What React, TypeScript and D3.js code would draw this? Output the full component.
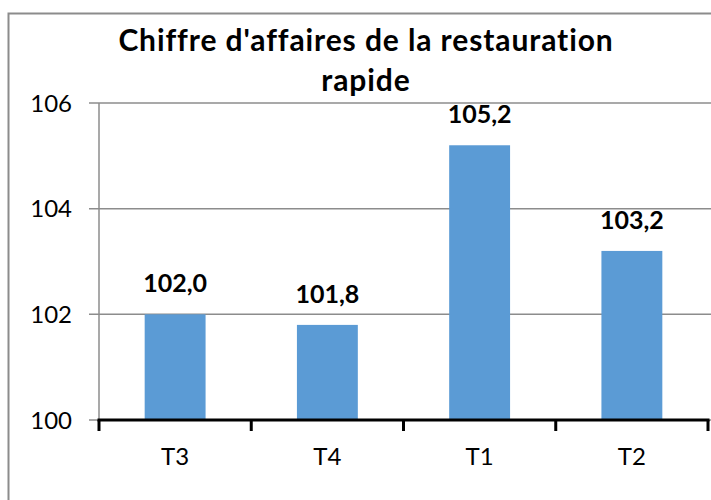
import { useEffect, useRef } from "react";
import * as d3 from "d3";

const categories = ["T3", "T4", "T1", "T2"];
const values = [102.0, 101.8, 105.2, 103.2];
const yTicks = [100, 102, 104, 106];
const titleLines = ["Chiffre d'affaires de la restauration", "rapide"];

const W = 711;
const H = 500;

const App = () => {
  const svgRef = useRef<SVGSVGElement>(null);

  useEffect(() => {
    const svg = d3.select(svgRef.current);
    svg.selectAll("*").remove();

    const margin = { top: 103, right: 3, bottom: 80, left: 99 };
    const font = "Lato, 'Open Sans', sans-serif";

    const x = d3
      .scaleBand()
      .domain(categories)
      .range([margin.left, W - margin.right])
      .paddingInner(0.6)
      .paddingOuter(0.3);

    const y = d3
      .scaleLinear()
      .domain([100, 106])
      .range([H - margin.bottom, margin.top]);

    svg.append("rect").attr("width", W).attr("height", H).attr("fill", "#fff");

    // chart border (clipped on right and bottom)
    svg
      .append("path")
      .attr("d", `M8.5,${H} V13.5 H${W}`)
      .attr("fill", "none")
      .attr("stroke", "#8c8c8c")
      .attr("stroke-width", 2);

    // title
    svg
      .append("g")
      .selectAll("text")
      .data(titleLines)
      .enter()
      .append("text")
      .attr("x", 366)
      .attr("y", (d, i) => 51 + i * 40)
      .attr("text-anchor", "middle")
      .style("font-family", font)
      .style("font-weight", "bold")
      .style("font-size", "30px")
      .style("letter-spacing", "0.9px")
      .style("font-variant-ligatures", "none")
      .attr("fill", "#000")
      .text((d) => d);

    // gridlines + left ticks
    svg
      .append("g")
      .selectAll("line")
      .data(yTicks)
      .enter()
      .append("line")
      .attr("x1", margin.left - 10)
      .attr("x2", W)
      .attr("y1", (d) => y(d))
      .attr("y2", (d) => y(d))
      .attr("stroke", "#8c8c8c")
      .attr("stroke-width", 1.5);

    // y axis line
    svg
      .append("line")
      .attr("x1", margin.left)
      .attr("x2", margin.left)
      .attr("y1", y(106))
      .attr("y2", y(100))
      .attr("stroke", "#8c8c8c")
      .attr("stroke-width", 1.5);

    // y tick labels
    svg
      .append("g")
      .selectAll("text")
      .data(yTicks)
      .enter()
      .append("text")
      .attr("x", 72)
      .attr("y", (d) => y(d))
      .attr("dy", "0.36em")
      .attr("text-anchor", "end")
      .style("font-family", font)
      .style("font-size", "24px")
      .attr("fill", "#000")
      .text((d) => d);

    // bars
    svg
      .append("g")
      .selectAll("rect")
      .data(values)
      .enter()
      .append("rect")
      .attr("x", (d, i) => x(categories[i]) as number)
      .attr("width", x.bandwidth())
      .attr("y", (d) => y(d))
      .attr("height", (d) => y(100) - y(d))
      .attr("fill", "#5b9bd5");

    // value labels
    svg
      .append("g")
      .selectAll("text")
      .data(values)
      .enter()
      .append("text")
      .attr("x", (d, i) => (x(categories[i]) as number) + x.bandwidth() / 2)
      .attr("y", (d) => y(d) - 22)
      .attr("text-anchor", "middle")
      .style("font-family", font)
      .style("font-weight", "bold")
      .style("font-size", "25px")
      .attr("fill", "#000")
      .text((d) => d.toFixed(1).replace(".", ","));

    // x axis
    const xAxisY = y(100);
    svg
      .append("line")
      .attr("x1", margin.left - 1.5)
      .attr("x2", W - margin.right + 1.5)
      .attr("y1", xAxisY)
      .attr("y2", xAxisY)
      .attr("stroke", "#000")
      .attr("stroke-width", 3);

    const step = x.step();
    const bounds = d3.range(categories.length + 1).map((i) => margin.left + i * step);
    svg
      .append("g")
      .selectAll("line")
      .data(bounds)
      .enter()
      .append("line")
      .attr("x1", (d) => d)
      .attr("x2", (d) => d)
      .attr("y1", xAxisY)
      .attr("y2", xAxisY + 11)
      .attr("stroke", "#000")
      .attr("stroke-width", 3);

    svg
      .append("g")
      .selectAll("text")
      .data(categories)
      .enter()
      .append("text")
      .attr("x", (d) => (x(d) as number) + x.bandwidth() / 2)
      .attr("y", 465)
      .attr("text-anchor", "middle")
      .style("font-family", font)
      .style("font-size", "24px")
      .attr("fill", "#000")
      .text((d) => d);
  }, []);

  return (
    <svg
      ref={svgRef}
      width={W}
      height={H}
      style={{ position: "absolute", left: 0, top: 0 }}
    ></svg>
  );
};

export default App;
